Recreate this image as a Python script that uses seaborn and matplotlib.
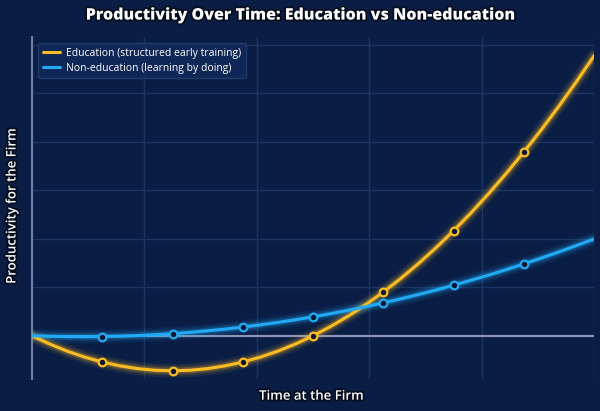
import numpy as np
import pandas as pd
import matplotlib.pyplot as plt
import matplotlib.patheffects as pe
from matplotlib.lines import Line2D
import seaborn as sns

# values (time at firm vs productivity), step 0.3125
time_at_firm = [i * 0.3125 for i in range(33)]
education = [0, -1.69, -3.16, -4.40, -5.41, -6.20, -6.77, -7.11, -7.22,
             -7.11, -6.77, -6.20, -5.41, -4.40, -3.16, -1.69, 0,
             1.92, 4.06, 6.43, 9.02, 11.84, 14.89, 18.16, 21.66,
             25.38, 29.33, 33.50, 37.90, 42.52, 47.37, 52.45, 57.75]
non_education = [0, -0.11, -0.18, -0.19, -0.16, -0.08, 0.04, 0.22, 0.44,
                 0.70, 1.02, 1.38, 1.79, 2.25, 2.76, 3.31, 3.91,
                 4.56, 5.25, 6.00, 6.79, 7.62, 8.51, 9.44, 10.42,
                 11.45, 12.52, 13.65, 14.82, 16.03, 17.30, 18.61, 19.97]
series_names = ["Education (structured early training)",
                "Non-education (learning by doing)"]

BG = "#0a1e45"
EDU = "#fbbd23"
NON = "#22aaf5"

sns.set_style("dark", {"axes.facecolor": BG, "figure.facecolor": BG})
plt.rcParams["font.family"] = ["Open Sans", "DejaVu Sans"]

df = pd.DataFrame({"time": time_at_firm * 2,
                   "prod": education + non_education,
                   "series": [series_names[0]] * len(education) + [series_names[1]] * len(non_education)})
palette = {series_names[0]: EDU, series_names[1]: NON}

fig = plt.figure(figsize=(6, 4.11), dpi=100)
ax = fig.add_axes([0.0533, 0.078, 0.937, 0.832])
ax.set_facecolor(BG)

# grid
ax.set_xlim(0, 10)
ax.set_ylim(-8.9, 61.6)
ax.set_xticks(np.arange(0, 11, 2))
ax.set_yticks(np.arange(10, 61, 10))
ax.grid(True, color="#1b3563", lw=1)
ax.tick_params(left=False, bottom=False, labelleft=False, labelbottom=False)

ax.axhline(0, color="#8d93b5", lw=1.6, zorder=2)

# glow layers
for lw, a in [(10, 0.07), (7, 0.12), (4.5, 0.22)]:
    sns.lineplot(data=df, x="time", y="prod", hue="series", palette=palette,
                 lw=lw, alpha=a, legend=False, ax=ax, zorder=3, sort=False)

sns.lineplot(data=df, x="time", y="prod", hue="series", palette=palette,
             lw=2.2, legend=False, ax=ax, zorder=4, sort=False,
             marker="o", markersize=5.5, markevery=slice(4, 29, 4),
             markerfacecolor="#0a1530", markeredgewidth=1.6)
for line, c in zip(ax.lines[-2:], [EDU, NON]):
    line.set_markeredgecolor(c)
ax.set_xlabel("")
ax.set_ylabel("")

for s in ["top", "right", "bottom"]:
    ax.spines[s].set_visible(False)
ax.spines["left"].set_color("#6f7fa6")
ax.spines["left"].set_linewidth(1.5)

outline = [pe.withStroke(linewidth=2.5, foreground="#050c1e")]
fig.text(0.5, 0.962, "Productivity Over Time: Education vs Non-education",
         ha="center", va="center", color="white", fontsize=11.5,
         fontweight="heavy", path_effects=outline)
fig.text(0.52, 0.036, "Time at the Firm", ha="center", va="center",
         color="white", fontsize=9.5, fontweight="semibold", path_effects=outline)
fig.text(0.02, 0.5, "Productivity for the Firm", ha="center", va="center",
         rotation=90, color="white", fontsize=9.5, fontweight="semibold",
         path_effects=outline)

handles = [Line2D([0], [0], color=EDU, lw=2.2), Line2D([0], [0], color=NON, lw=2.2)]
leg = ax.legend(handles, series_names, loc="upper left", fontsize=7.5,
                frameon=True, facecolor="#11295a", edgecolor="#23406e",
                labelcolor="white", handlelength=1.6, handletextpad=0.6,
                borderpad=0.45, labelspacing=0.4,
                bbox_to_anchor=(0.002, 0.998))
leg.get_frame().set_alpha(0.85)

fig.savefig("out.png", dpi=100, facecolor=BG)
